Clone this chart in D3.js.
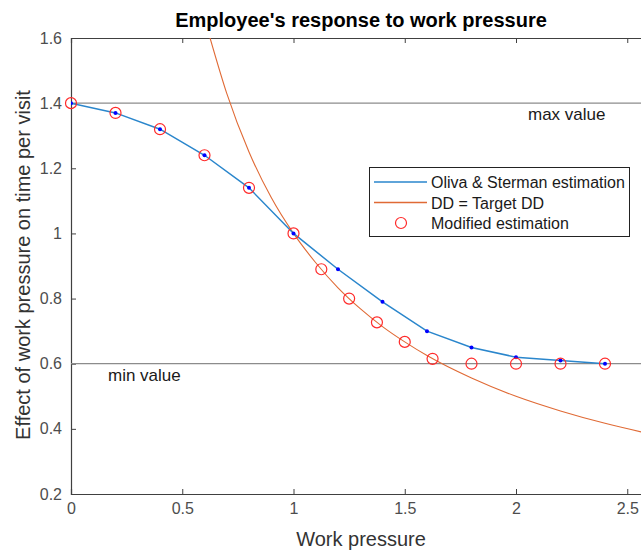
<!DOCTYPE html>
<html>
<head>
<meta charset="utf-8">
<script src="https://cdn.jsdelivr.net/npm/d3@7"></script>
<style>
body{ margin:0; background:white; }
text{ font-family:"Liberation Sans", Arial, sans-serif; }
</style>
</head>
<body>
<div id="chart"></div>
<script>
// Oliva & Sterman estimation (blue line with dots)
var osX = [0, 0.2, 0.4, 0.6, 0.8, 1.0, 1.2, 1.4, 1.6, 1.8, 2.0, 2.2, 2.4];
var osY = [1.4, 1.37, 1.32, 1.24, 1.14, 1.0, 0.89, 0.79, 0.70, 0.65, 0.62, 0.61, 0.60];
// DD = Target DD (orange curve)
var ddX = [0.625, 0.7, 0.8, 0.9, 1.0, 1.1, 1.2, 1.3, 1.4, 1.5, 1.6, 1.8, 2.0, 2.2, 2.4, 2.6];
var ddY = [1.6, 1.43, 1.25, 1.11, 1.0, 0.91, 0.833, 0.769, 0.714, 0.667, 0.625, 0.556, 0.5, 0.455, 0.417, 0.385];
// Modified estimation (red circles)
var modX = [0, 0.2, 0.4, 0.6, 0.8, 1.0, 1.125, 1.25, 1.375, 1.5, 1.625, 1.8, 2.0, 2.2, 2.4];
var modY = [1.4, 1.37, 1.32, 1.24, 1.14, 1.0, 0.89, 0.80, 0.727, 0.667, 0.615, 0.60, 0.60, 0.60, 0.60];
var xTicks = [0, 0.5, 1, 1.5, 2, 2.5];
var yTicks = [0.2, 0.4, 0.6, 0.8, 1, 1.2, 1.4, 1.6];
var maxVal = 1.4, minVal = 0.6;

var W = 641, H = 551;
var svg = d3.select('#chart').append('svg').attr('width', W).attr('height', H);

var x = d3.scaleLinear().domain([0, 2.6]).range([71, 649.5]);
var y = d3.scaleLinear().domain([0.2, 1.6]).range([494, 38]);

svg.append('defs').append('clipPath').attr('id', 'clip')
  .append('rect').attr('x', 71).attr('y', 38).attr('width', 580).attr('height', 456);

var axisColor = '#404040';
var tickTxt = '#4d4d4d';

// axes
var xa = svg.append('g').attr('transform', 'translate(0,494)')
  .call(d3.axisBottom(x).tickValues(xTicks).tickSize(-5).tickPadding(9).tickFormat(d3.format('')));
var xt = svg.append('g').attr('transform', 'translate(0,38)')
  .call(d3.axisTop(x).tickValues(xTicks).tickSize(-5).tickFormat(''));
var ya = svg.append('g').attr('transform', 'translate(71,0)')
  .call(d3.axisLeft(y).tickValues(yTicks).tickSize(-5).tickPadding(9).tickFormat(d3.format('')));
[xa, xt, ya].forEach(function(g){
  g.select('.domain').attr('stroke', axisColor).attr('stroke-width', 1.2);
  g.selectAll('.tick line').attr('stroke', axisColor);
  g.selectAll('.tick text').attr('fill', tickTxt).style('font-size', '16px');
});

var plot = svg.append('g').attr('clip-path', 'url(#clip)');

// reference lines
plot.selectAll('.ref').data([maxVal, minVal]).enter().append('line')
  .attr('x1', x(0)).attr('x2', x(2.6))
  .attr('y1', function(d){ return y(d); }).attr('y2', function(d){ return y(d); })
  .attr('stroke', '#8c8c8c').attr('stroke-width', 1.3);

// orange curve
var ddData = ddX.map(function(v, i){ return [v, ddY[i]]; });
plot.append('path').datum(ddData)
  .attr('d', d3.line().x(function(d){ return x(d[0]); }).y(function(d){ return y(d[1]); }).curve(d3.curveMonotoneX))
  .attr('fill', 'none').attr('stroke', '#e06a35').attr('stroke-width', 1.1);

// blue line
var osData = osX.map(function(v, i){ return [v, osY[i]]; });
plot.append('path').datum(osData)
  .attr('d', d3.line().x(function(d){ return x(d[0]); }).y(function(d){ return y(d[1]); }))
  .attr('fill', 'none').attr('stroke', '#2a86cc').attr('stroke-width', 1.5);
plot.selectAll('.dot').data(osData).enter().append('circle')
  .attr('cx', function(d){ return x(d[0]); }).attr('cy', function(d){ return y(d[1]); })
  .attr('r', 2).attr('fill', '#0000ff');

// red circles
var modData = modX.map(function(v, i){ return [v, modY[i]]; });
svg.selectAll('.mod').data(modData).enter().append('circle')
  .attr('cx', function(d){ return x(d[0]); }).attr('cy', function(d){ return y(d[1]); })
  .attr('r', 5.5).attr('fill', 'none').attr('stroke', '#ff2a2a').attr('stroke-width', 1.2);

// annotations
svg.append('text').attr('x', 528).attr('y', 120).style('font-size', '17px').attr('fill', '#1a1a1a').text('max value');
svg.append('text').attr('x', 108).attr('y', 381).style('font-size', '17px').attr('fill', '#1a1a1a').text('min value');

// title and labels
svg.append('text').attr('x', 361).attr('y', 27).attr('text-anchor', 'middle')
  .style('font-size', '20px').style('font-weight', 'bold').attr('fill', '#000')
  .text("Employee's response to work pressure");
svg.append('text').attr('x', 361).attr('y', 546).attr('text-anchor', 'middle')
  .style('font-size', '20px').attr('fill', '#333').text('Work pressure');
svg.append('text').attr('transform', 'translate(30,265) rotate(-90)').attr('text-anchor', 'middle')
  .style('font-size', '20px').attr('fill', '#333').text('Effect of work pressure on time per visit');

// legend
var lg = svg.append('g');
lg.append('rect').attr('x', 369.5).attr('y', 167.5).attr('width', 260).attr('height', 69)
  .attr('fill', 'white').attr('stroke', '#222').attr('stroke-width', 1);
var items = [
  {label: 'Oliva & Sterman estimation', type: 'line', color: '#2a86cc'},
  {label: 'DD = Target DD', type: 'line', color: '#e06a35'},
  {label: 'Modified estimation', type: 'circle', color: '#ff2a2a'}
];
items.forEach(function(it, i){
  var cy = 182 + i * 20.5;
  if (it.type === 'line') {
    lg.append('line').attr('x1', 374).attr('x2', 427).attr('y1', cy).attr('y2', cy)
      .attr('stroke', it.color).attr('stroke-width', 1.5);
  } else {
    lg.append('circle').attr('cx', 401).attr('cy', cy).attr('r', 5.5)
      .attr('fill', 'none').attr('stroke', it.color).attr('stroke-width', 1.2);
  }
  lg.append('text').attr('x', 431).attr('y', cy + 6).style('font-size', '16px').attr('fill', '#1a1a1a').text(it.label);
});
</script>
</body>
</html>
